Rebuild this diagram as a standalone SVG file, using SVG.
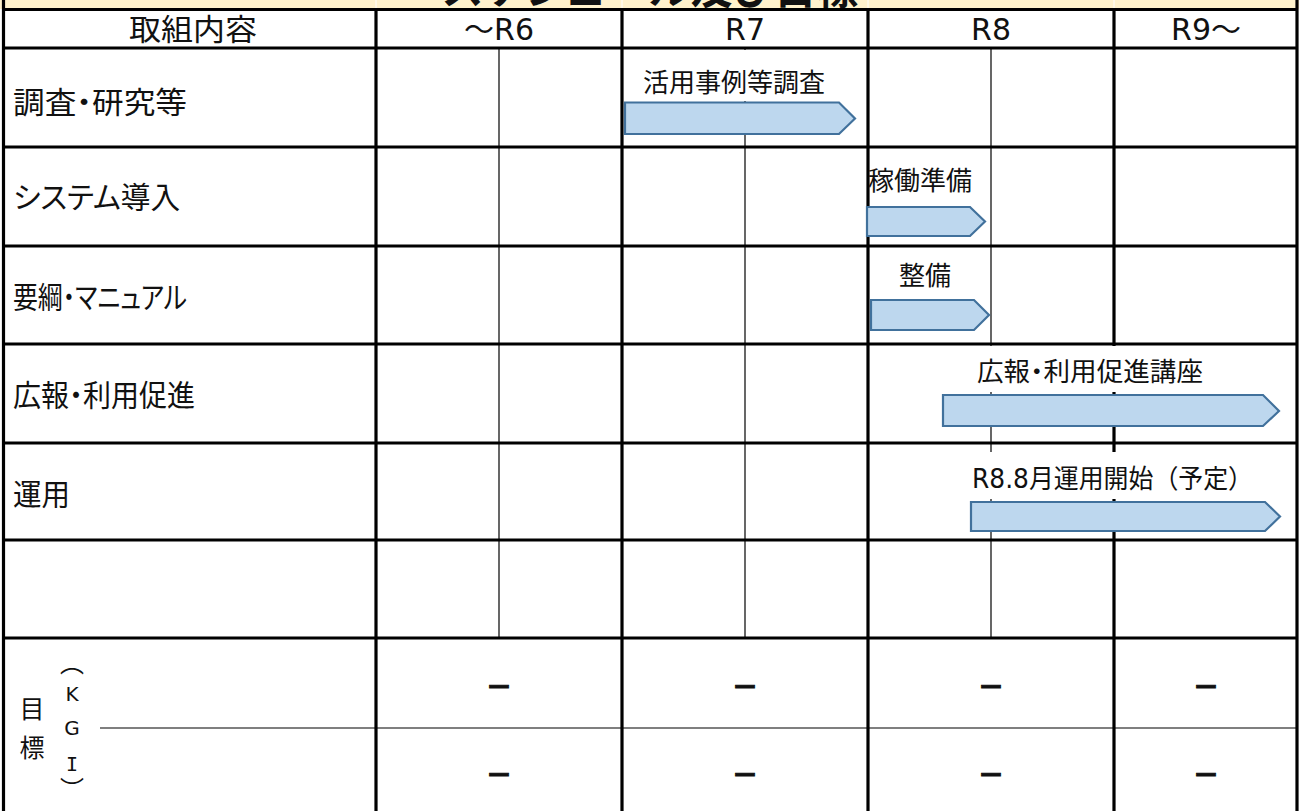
<svg xmlns="http://www.w3.org/2000/svg" width="1299" height="811" viewBox="0 0 1299 811">
<style>
.thick{stroke:#000;stroke-width:3.2;fill:none}
.thin{stroke:#000;stroke-width:1.2;fill:none}
.t{font-family:"DejaVu Sans","Noto Sans CJK JP",sans-serif;fill:#111}
.hd{font-size:30px;text-anchor:middle}
.row{font-size:30px;font-family:"Noto Sans CJK JP",sans-serif;font-feature-settings:"palt";fill:#111}
.ann{font-size:26px}
.palt{font-family:"Noto Sans CJK JP",sans-serif;font-feature-settings:"palt"}
.dash{font-size:27px;text-anchor:middle;font-weight:bold;stroke:#111;stroke-width:0.8}
.arrow{fill:#BDD7EE;stroke:#41719C;stroke-width:2.2;stroke-linejoin:miter}
.mask{fill:#fff;stroke:none}
</style>
<rect width="1299" height="811" fill="#fff"/>
<g id="title">
<rect x="0" y="0" width="1299" height="9" fill="#FFF2CC"/>
<text class="t" x="650" y="4" font-size="42" font-weight="bold" text-anchor="middle">スケジュール及び目標</text>
<g stroke="#fff" stroke-width="1"><line x1="376" y1="0" x2="376" y2="8"/><line x1="622" y1="0" x2="622" y2="8"/><line x1="868" y1="0" x2="868" y2="8"/><line x1="1114" y1="0" x2="1114" y2="8"/></g>
</g>
<g id="grid">
<line class="thick" x1="2" y1="9.5" x2="1298" y2="9.5"/>
<line class="thick" x1="2" y1="48" x2="1298" y2="48"/>
<line class="thick" x1="2" y1="147" x2="1298" y2="147"/>
<line class="thick" x1="2" y1="246" x2="1298" y2="246"/>
<line class="thick" x1="2" y1="344" x2="1298" y2="344"/>
<line class="thick" x1="2" y1="443" x2="1298" y2="443"/>
<line class="thick" x1="2" y1="540" x2="1298" y2="540"/>
<line class="thick" x1="2" y1="638" x2="1298" y2="638"/>
<line class="thin" x1="100" y1="728" x2="1298" y2="728"/>
<line class="thick" x1="3.5" y1="0" x2="3.5" y2="811"/>
<line class="thick" x1="1297" y1="0" x2="1297" y2="811"/>
<line class="thick" x1="376" y1="9" x2="376" y2="811"/>
<line class="thick" x1="622" y1="9" x2="622" y2="811"/>
<line class="thick" x1="868" y1="9" x2="868" y2="811"/>
<line class="thick" x1="1114" y1="9" x2="1114" y2="811"/>
<line class="thin" x1="499" y1="48" x2="499" y2="638"/>
<line class="thin" x1="745" y1="48" x2="745" y2="638"/>
<line class="thin" x1="991" y1="48" x2="991" y2="638"/>
</g>
<g id="header">
<text class="t hd" x="193" y="40" textLength="128" lengthAdjust="spacingAndGlyphs">取組内容</text>
<text class="t hd" x="499" y="40">～R6</text>
<text class="t hd" x="745" y="40">R7</text>
<text class="t hd" x="991" y="40">R8</text>
<text class="t hd" x="1206" y="40">R9～</text>
</g>
<g id="rows">
<text class="row" x="13" y="113" textLength="174" lengthAdjust="spacingAndGlyphs">調査・研究等</text>
<text class="row" x="13" y="208" textLength="167" lengthAdjust="spacingAndGlyphs">システム導入</text>
<text class="row" x="13" y="308" textLength="174" lengthAdjust="spacingAndGlyphs">要綱・マニュアル</text>
<text class="row" x="13" y="406" textLength="182" lengthAdjust="spacingAndGlyphs">広報・利用促進</text>
<text class="row" x="13" y="505" textLength="57" lengthAdjust="spacingAndGlyphs">運用</text>
</g>
<g id="goal">
<text class="t" x="32" y="718" font-size="25" text-anchor="middle">目</text>
<text class="t" x="32" y="757" font-size="25" text-anchor="middle">標</text>
<text class="t" x="72" y="672" font-size="24" text-anchor="middle">︵</text>
<text class="t" x="72" y="701" font-size="20" text-anchor="middle">K</text>
<text class="t" x="72" y="735" font-size="20" text-anchor="middle">G</text>
<text x="72" y="771" font-size="20" text-anchor="middle" font-family="DejaVu Sans Mono, monospace" fill="#111">I</text>
<text class="t" x="72" y="798" font-size="24" text-anchor="middle">︶</text>
<text class="t dash" x="499" y="697">－</text>
<text class="t dash" x="745" y="697">－</text>
<text class="t dash" x="991" y="697">－</text>
<text class="t dash" x="1206" y="697">－</text>
<text class="t dash" x="499" y="785">－</text>
<text class="t dash" x="745" y="785">－</text>
<text class="t dash" x="991" y="785">－</text>
<text class="t dash" x="1206" y="785">－</text>
</g>
<g id="task-survey">
<rect class="mask" x="626" y="50" width="238" height="51"/>
<text class="t ann" x="643" y="92">活用事例等調査</text>
<polygon class="arrow" points="625,102.5 839,102.5 855,118.5 839,134 625,134"/>
</g>
<g id="task-system">
<rect class="mask" x="870" y="150" width="118" height="55"/>
<text class="t ann" x="868" y="190">稼働準備</text>
<polygon class="arrow" points="867,207 970,207 985,221.5 970,236 867,236"/>
</g>
<g id="task-manual">
<rect class="mask" x="870" y="249" width="118" height="49"/>
<text class="t ann" x="899" y="285">整備</text>
<polygon class="arrow" points="871,300 974,300 989,315 974,330 871,330"/>
</g>
<g id="task-pr">
<rect class="mask" x="940" y="346" width="350" height="46"/>
<text class="t ann palt" x="977" y="381" textLength="226" lengthAdjust="spacingAndGlyphs">広報・利用促進講座</text>
<polygon class="arrow" points="943,395 1263,395 1279,411 1263,426 943,426"/>
</g>
<g id="task-operation">
<rect class="mask" x="965" y="452" width="325" height="47"/>
<text class="t ann" x="972" y="488" textLength="281" lengthAdjust="spacingAndGlyphs">R8.8月運用開始（予定）</text>
<polygon class="arrow" points="971,502 1265,502 1280,516.5 1265,531 971,531"/>
</g>
</svg>
